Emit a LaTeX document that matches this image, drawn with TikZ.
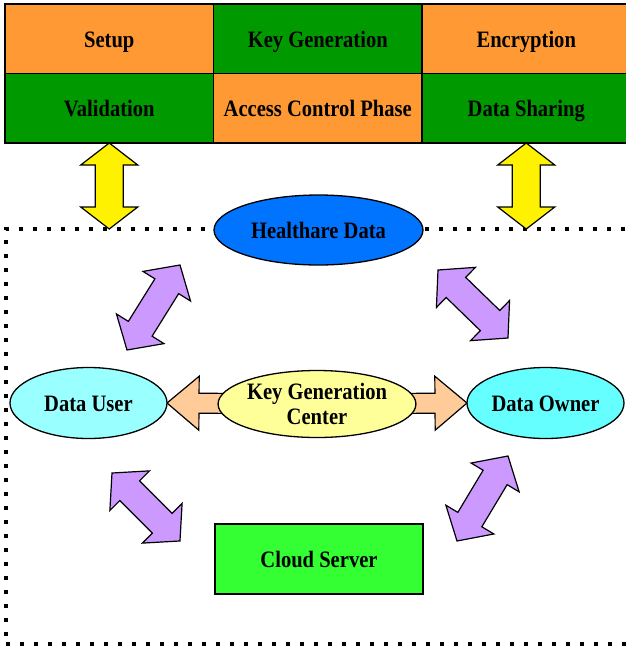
\documentclass[tikz,border=0pt]{standalone}
\usepackage{fontspec}
\setmainfont{Liberation Serif}[FakeStretch=0.875]
\usetikzlibrary{shapes.geometric,calc,backgrounds}

\definecolor{cellorange}{RGB}{255,153,51}
\definecolor{cellgreen}{RGB}{0,153,0}
\definecolor{hcblue}{RGB}{0,115,255}
\definecolor{usercyan}{RGB}{153,255,255}
\definecolor{ownercyan}{RGB}{102,255,255}
\definecolor{kgcyellow}{RGB}{255,255,153}
\definecolor{peach}{RGB}{255,204,153}
\definecolor{lilac}{RGB}{204,153,255}
\definecolor{cloudgreen}{RGB}{51,255,51}

\begin{document}
\begin{tikzpicture}[x=1pt,y=-1pt,
    txt/.style={font=\fontsize{23.5}{25.5}\selectfont\bfseries},
    oneline/.style={txt,text height=17.4pt,text depth=0pt},
    cell/.style={oneline,draw,line width=1.2pt,minimum width=208.5pt,minimum height=69.5pt,inner sep=0pt,outer sep=0pt},
    ent/.style={ellipse,draw,line width=1.3pt,inner sep=0pt,outer sep=0pt},
    frame/.style={draw,dash pattern=on 4pt off 10pt,line width=4pt,minimum width=634pt,minimum height=415pt,outer sep=0pt},
    dblarrow/.style n args={3}{to path={let \p1=(\tikztostart), \p2=(\tikztotarget), \n1={atan2(\y2-\y1,\x2-\x1)}, \n2={veclen(\x2-\x1,\y2-\y1)} in
      [shift={(\p1)},rotate=\n1] (0,0) -- (#1,#2) -- (#1,#3) -- ({\n2-#1},#3) -- ({\n2-#1},#2) -- (\n2,0)
      -- ({\n2-#1},-#2) -- ({\n2-#1},-#3) -- (#1,-#3) -- (#1,-#2) -- cycle}},
    onearrow/.style n args={3}{to path={let \p1=(\tikztostart), \p2=(\tikztotarget), \n1={atan2(\y2-\y1,\x2-\x1)}, \n2={veclen(\x2-\x1,\y2-\y1)} in
      [shift={(\p1)},rotate=\n1] (0,#3) -- ({\n2-#1},#3) -- ({\n2-#1},#2) -- (\n2,0)
      -- ({\n2-#1},-#2) -- ({\n2-#1},-#3) -- (0,-#3) -- cycle}},
    yellowarrow/.style={draw,line width=1.2pt,fill=yellow,dblarrow={22}{28.5}{14}},
    purplearrow/.style={draw,line width=1.2pt,fill=lilac,dblarrow={25}{28}{14}},
    peacharrow/.style={draw,line width=1.2pt,fill=peach,onearrow={32}{27}{10}}]

    \useasboundingbox (0,0) rectangle (626,649);

    \node[frame] (frame) at (323,436.5) {};

    \node[cell,fill=cellorange] (setup)  at (109.25,38.75)  {Setup};
    \node[cell,fill=cellgreen]  (keygen) at (317.75,38.75)  {Key Generation};
    \node[cell,fill=cellorange] (enc)    at (526.25,38.75)  {Encryption};
    \node[cell,fill=cellgreen]  (val)    at (109.25,108.25) {Validation};
    \node[cell,fill=cellorange] (acp)    at (317.75,108.25) {Access Control Phase};
    \node[cell,fill=cellgreen]  (share)  at (526.25,108.25) {Data Sharing};

    \draw[yellowarrow] (val.south) to (val.south |- frame.north);
    \draw[yellowarrow] (share.south) to (share.south |- frame.north);

    \node[ent,oneline,fill=hcblue,minimum width=209pt,minimum height=70pt] (hd) at (318.5,230) {Healthare Data};
    \node[ent,oneline,fill=usercyan,minimum width=157pt,minimum height=71pt] (du) at (88.5,403) {Data User};
    \node[ent,oneline,fill=ownercyan,minimum width=157pt,minimum height=71pt] (do) at (545.5,403) {Data Owner};
    \node[ent,txt,fill=kgcyellow,minimum width=190pt,minimum height=67pt,align=center,text depth=-8pt] (kgc) at (317,404) {Key Generation\\Center};
    \node[oneline,draw,line width=1.2pt,fill=cloudgreen,minimum width=208pt,minimum height=70pt] (cs) at (319,559) {Cloud Server};

    \begin{pgfonlayer}{background}
      \draw[peacharrow] (kgc.center) to (du.east);
      \draw[peacharrow] (kgc.center) to (do.west);
    \end{pgfonlayer}

    \coordinate (uh1) at (127,350);
    \coordinate (uh2) at (180,265);
    \coordinate (ho1) at (438,270);
    \coordinate (ho2) at (508,338);
    \coordinate (uc1) at (112,473);
    \coordinate (uc2) at (180,541);
    \coordinate (co1) at (457,541);
    \coordinate (co2) at (508,456);

    \draw[purplearrow] (uh1) to (uh2);
    \draw[purplearrow] (ho1) to (ho2);
    \draw[purplearrow] (uc1) to (uc2);
    \draw[purplearrow] (co1) to (co2);

\end{tikzpicture}
\end{document}
